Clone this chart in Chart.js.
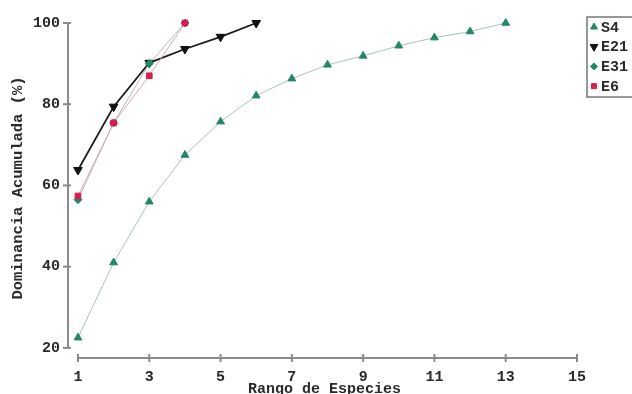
<!DOCTYPE html>
<html>
<head>
<meta charset="utf-8">
<script src="https://cdn.jsdelivr.net/npm/chart.js@4.4.1/dist/chart.umd.min.js"></script>
<style>
html,body{margin:0;padding:0;background:#fff;overflow:hidden;}
canvas{display:block;}
</style>
</head>
<body>
<canvas id="c" width="632" height="394"></canvas>
<script>
// ---- data ----
const seriesNames = ["S4", "E21", "E31", "E6"];
const rankS4  = [1,2,3,4,5,6,7,8,9,10,11,12,13];
const valS4   = [22.5,41,56,67.5,75.7,82.1,86.3,89.7,91.9,94.4,96.4,97.9,100];
const rankE21 = [1,2,3,4,5,6];
const valE21  = [63.8,79.4,90.2,93.6,96.6,100];
const rankE31 = [1,2,3,4];
const valE31  = [56.5,75.4,90,100];
const rankE6  = [1,2,3,4];
const valE6   = [57.4,75.4,87,100];
const xTicks = [1,3,5,7,9,11,13,15];
const yTicks = [20,40,60,80,100];
const xTitle = "Rango de Especies";
const yTitle = "Dominancia Acumulada (%)";

const FONT = "'Liberation Mono', 'DejaVu Sans Mono', monospace";
const pts = (xs, ys) => xs.map((x, i) => ({x: x, y: ys[i]}));

const styles = [
  {line:'#a9c4b8', color:'#23866a', pointStyle:'triangle', radius:4.5, rotation:0, width:1, order:3},
  {line:'#1a1a1a', color:'#111111', pointStyle:'triangle', radius:5, rotation:180, width:1.8, order:2},
  {line:'#b8b8b8', color:'#1f8a6a', pointStyle:'rectRot', radius:4, rotation:0, width:1, order:1},
  {line:'#d2aab2', color:'#d81e4c', pointStyle:'rect', radius:4, rotation:0, width:1, order:0}
];
const dataSets = [pts(rankS4,valS4), pts(rankE21,valE21), pts(rankE31,valE31), pts(rankE6,valE6)];

const datasets = seriesNames.map((n, i) => ({
  label: n,
  data: dataSets[i],
  borderColor: styles[i].line,
  borderWidth: styles[i].width,
  backgroundColor: styles[i].color,
  pointBackgroundColor: styles[i].color,
  pointBorderColor: styles[i].color,
  pointStyle: styles[i].pointStyle,
  pointRadius: styles[i].radius,
  pointRotation: styles[i].rotation,
  pointBorderWidth: 1,
  tension: 0,
  order: styles[i].order,
  clip: false
}));

const axesPlugin = {
  id: 'axesPlugin',
  afterDraw(chart) {
    const ctx = chart.ctx;
    const xs = chart.scales.x, ys = chart.scales.y;
    const ca = chart.chartArea;
    ctx.save();
    ctx.strokeStyle = '#8a8a8a';
    ctx.lineWidth = 2;
    // y axis
    const yx = ca.left;
    ctx.beginPath();
    ctx.moveTo(yx, ys.getPixelForValue(yTicks[0]) + 1);
    ctx.lineTo(yx, ys.getPixelForValue(yTicks[yTicks.length-1]) - 1);
    ctx.stroke();
    yTicks.forEach(v => {
      const py = ys.getPixelForValue(v);
      ctx.beginPath(); ctx.moveTo(yx - 5, py); ctx.lineTo(yx + 3, py); ctx.stroke();
    });
    // x axis
    const xy = ca.bottom;
    ctx.beginPath();
    ctx.moveTo(xs.getPixelForValue(xTicks[0]), xy);
    ctx.lineTo(xs.getPixelForValue(xTicks[xTicks.length-1]), xy);
    ctx.stroke();
    xTicks.forEach(v => {
      const px = xs.getPixelForValue(v);
      ctx.beginPath(); ctx.moveTo(px, xy - 4); ctx.lineTo(px, xy + 4); ctx.stroke();
    });
    // titles
    ctx.fillStyle = '#2a2a2a';
    ctx.font = "bold 15px " + FONT;
    ctx.textAlign = 'center';
    ctx.textBaseline = 'middle';
    ctx.fillText(xTitle, (xs.getPixelForValue(1) + xs.getPixelForValue(15)) / 2 - 3, 389);
    ctx.save();
    ctx.translate(18, 188);
    ctx.rotate(-Math.PI / 2);
    ctx.font = "bold 15.5px " + FONT;
    ctx.fillText(yTitle, 0, 0);
    ctx.restore();
    // legend
    const lx = 587, ly = 17;
    ctx.strokeStyle = '#777';
    ctx.lineWidth = 1.5;
    ctx.fillStyle = '#fff';
    ctx.fillRect(lx, ly, 80, 80);
    ctx.strokeRect(lx, ly, 80, 80);
    ctx.font = "bold 15px " + FONT;
    ctx.textAlign = 'left';
    seriesNames.forEach((n, i) => {
      const cy = 27 + i * 19.7;
      const st = styles[i];
      ctx.fillStyle = st.color;
      ctx.strokeStyle = st.color;
      ctx.lineWidth = 1;
      Chart.helpers.drawPoint(ctx, {pointStyle: st.pointStyle, radius: st.radius - 0.5, rotation: st.rotation, borderWidth: 1}, 594, cy);
      ctx.fillStyle = '#2a2a2a';
      ctx.fillText(n, 601, cy + 1);
    });
    ctx.restore();
  }
};

new Chart(document.getElementById('c'), {
  type: 'line',
  data: { datasets: datasets },
  options: {
    responsive: false,
    animation: false,
    layout: { padding: { top: 23, right: 55, left: 0, bottom: 0 } },
    plugins: { legend: { display: false }, tooltip: { enabled: false } },
    scales: {
      x: {
        type: 'linear',
        min: 0.72, max: 15,
        afterBuildTicks: s => { s.ticks = xTicks.map(v => ({value: v})); },
        afterFit: s => { s.height = 36; },
        grid: { display: false },
        border: { display: false },
        ticks: { color: '#2a2a2a', font: { family: FONT, size: 15, weight: 'bold' }, padding: 2, maxRotation: 0, autoSkip: false }
      },
      y: {
        type: 'linear',
        min: 17.5, max: 100,
        afterBuildTicks: s => { s.ticks = yTicks.map(v => ({value: v})); },
        afterFit: s => { s.width = 68; },
        grid: { display: false },
        border: { display: false },
        ticks: { color: '#2a2a2a', font: { family: FONT, size: 15, weight: 'bold' }, padding: 0 }
      }
    }
  },
  plugins: [axesPlugin]
});
</script>
</body>
</html>
